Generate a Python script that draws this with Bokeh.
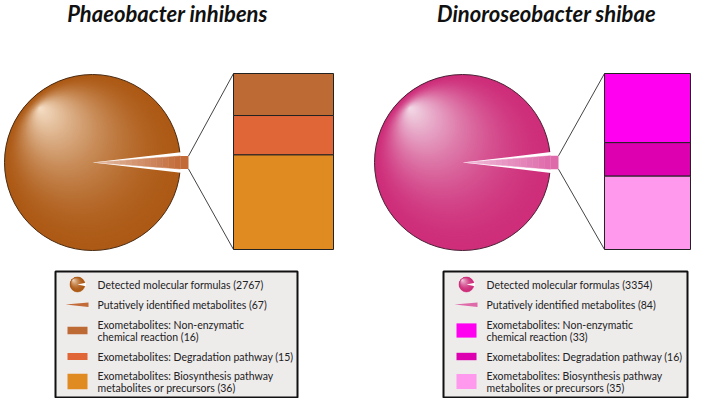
import numpy as np
from bokeh.plotting import figure
from bokeh.models import Range1d
from bokeh.core.properties import value
from bokeh.embed import file_html
from bokeh.resources import INLINE

# ---------------- data ----------------
species = ["Phaeobacter inhibens", "Dinoroseobacter shibae"]
detected = [2767, 3354]
putative = [67, 84]
cat_head = ["Exometabolites: Non-enzymatic",
            "Exometabolites: Degradation pathway",
            "Exometabolites: Biosynthesis pathway"]
cat_tail = ["chemical reaction", "", "metabolites or precursors"]
counts_pi = [16, 15, 36]
counts_ds = [33, 16, 35]
counts = [counts_pi, counts_ds]

# ---------------- style ----------------
pie_base = ["#AD5A16", "#CE2E7A"]
pie_light = ["#F6E0C8", "#F2DCE8"]
pie_edge = ["#4A2A10", "#4A2035"]
slice_col = ["#C26A38", "#DE6AAA"]
seg_cols = [["#BE6A35", "#E06637", "#E08A22"], ["#FF00F0", "#DD00B0", "#FF99EE"]]
legend_bg = "#EEEBEB"
FONT = "Lato"

W, H = 692, 398
p = figure(width=W, height=H, output_backend="svg", toolbar_location=None,
           x_range=Range1d(0, W), y_range=Range1d(H, 0),
           min_border=0)
p.axis.visible = False
p.grid.visible = False
p.outline_line_color = None
p.background_fill_color = "white"
p.border_fill_color = "white"


def hex2rgb(h):
    h = h.lstrip("#")
    return np.array([int(h[i:i + 2], 16) for i in (0, 2, 4)], dtype=float)


def rgb2hex(c):
    c = np.clip(np.round(c), 0, 255).astype(int)
    return "#%02x%02x%02x" % tuple(c)


def mix(a, b, f):
    return rgb2hex(hex2rgb(a) + (hex2rgb(b) - hex2rgb(a)) * f)


def sphere(cx, cy, R, base, light, edge, n=80, lw=1.0):
    hx, hy = cx - 0.60 * R, cy - 0.62 * R
    ts = np.linspace(0, 1, n, endpoint=False)
    xs = cx + ts * (hx - cx)
    ys = cy + ts * (hy - cy)
    rs = (1 - ts) * R
    cols = [mix(base, light, t ** 1.8) for t in ts]
    p.circle(x=xs, y=ys, radius=rs, fill_color=cols, line_color=None)
    p.circle(x=[cx], y=[cy], radius=[R], fill_color=None, line_color=edge, line_width=lw)


def cut(cx, cy, r, half):
    a = np.linspace(-half, half, 20)
    xs = [cx] + list(cx + r * np.cos(a))
    ys = [cy] + list(cy + r * np.sin(a))
    p.patch(xs, ys, fill_color="white", line_color=None)


cxs = [92, 462]
cy = 162
R = 88
box_x0 = [233, 604]
box_x1 = [333, 690]
box_top, box_bot = 73, 249
title_x = [167, 546]
leg_x0 = [55, 443]
leg_x1 = [297, 687]
leg_top, leg_bot = 271, 397
icon_x = [77, 466]
text_x = [97, 486]
row1_y, row2_y = 284, 304
row_lines = [(324, 336), (356, None), (375, 387)]
row_c = [330, 356, 381]

for k in range(2):
    cx = cxs[k]
    frac = putative[k] / detected[k]
    half = frac * np.pi  # half of the slice angle
    # title
    p.text(x=[title_x[k]], y=[13], text=[species[k]], text_font=value(FONT),
           text_font_style="bold italic", text_font_size="22px",
           text_align="center", text_baseline="middle", text_color="#111111")
    # pie
    sphere(cx, cy, R, pie_base[k], pie_light[k], pie_edge[k])
    cut(cx, cy, R + 3, half + np.radians(2.2))
    # slice (exploded) with gradient strips
    ext = 8
    xa = cx + 3
    nstr = 14
    xsplit = np.linspace(xa, cx + R, nstr + 1)
    for i in range(nstr):
        x1, x2 = xsplit[i], xsplit[i + 1]
        e1 = (x1 - xa) * np.tan(half)
        e2 = (x2 - xa) * np.tan(half)
        col = mix(mix(slice_col[k], "#FFFFFF", 0.55), slice_col[k], (i + 0.5) / nstr)
        p.patch([x1, x2, x2, x1], [cy - e1, cy - e2, cy + e2, cy + e1],
                fill_color=col, line_color=col, line_width=0.5)
    e_end = (cx + R - xa) * np.tan(half)
    p.quad(left=[cx + R], right=[cx + R + ext], top=[cy - e_end], bottom=[cy + e_end],
           fill_color=slice_col[k], line_color=None)
    # connector lines
    p.segment(x0=[cx + R + ext, cx + R + ext], y0=[cy - e_end, cy + e_end],
              x1=[box_x0[k], box_x0[k]], y1=[box_top, box_bot],
              line_color="#444444", line_width=1)
    # stacked box
    c = np.array(counts[k], dtype=float)
    edges = box_top + np.concatenate([[0], np.cumsum(c)]) / c.sum() * (box_bot - box_top)
    p.quad(left=[box_x0[k]] * 3, right=[box_x1[k]] * 3, top=list(edges[:-1]),
           bottom=list(edges[1:]), fill_color=seg_cols[k], line_color="#222222",
           line_width=1)
    # legend box
    p.quad(left=[leg_x0[k]], right=[leg_x1[k]], top=[leg_top], bottom=[leg_bot],
           fill_color=legend_bg, line_color="#111111", line_width=2)
    ix = icon_x[k]
    # row 1 icon: small sphere with notch
    sphere(ix, row1_y, 7.5, pie_base[k], pie_light[k], pie_base[k], n=30, lw=0.5)
    cut(ix, row1_y, 8.5, np.radians(12))
    # row 2 icon: thin wedge
    p.patch([ix - 12, ix + 11, ix + 11], [row2_y, row2_y - 2, row2_y + 2.5],
            fill_color=slice_col[k], line_color=None)
    # rows 3-5 icons
    hs = [0.4 * v + 1 for v in counts[k]]
    p.quad(left=[ix - 10] * 3, right=[ix + 10] * 3,
           top=[row_c[i] - hs[i] / 2 for i in range(3)],
           bottom=[row_c[i] + hs[i] / 2 for i in range(3)],
           fill_color=seg_cols[k], line_color=None)
    # legend texts
    lines = [f"Detected molecular formulas ({detected[k]})",
             f"Putatively identified metabolites ({putative[k]})"]
    ys = [row1_y, row2_y]
    for i in range(3):
        ya, yb = row_lines[i]
        if cat_tail[i]:
            lines += [cat_head[i], f"{cat_tail[i]} ({counts[k][i]})"]
            ys += [ya, yb]
        else:
            lines += [f"{cat_head[i]} ({counts[k][i]})"]
            ys += [ya]
    p.text(x=[text_x[k]] * len(lines), y=ys, text=lines, text_font=value(FONT),
           text_font_size="10.5px", text_align="left", text_baseline="middle",
           text_color="#222222")

open("out.html", "w").write(file_html(p, INLINE))
